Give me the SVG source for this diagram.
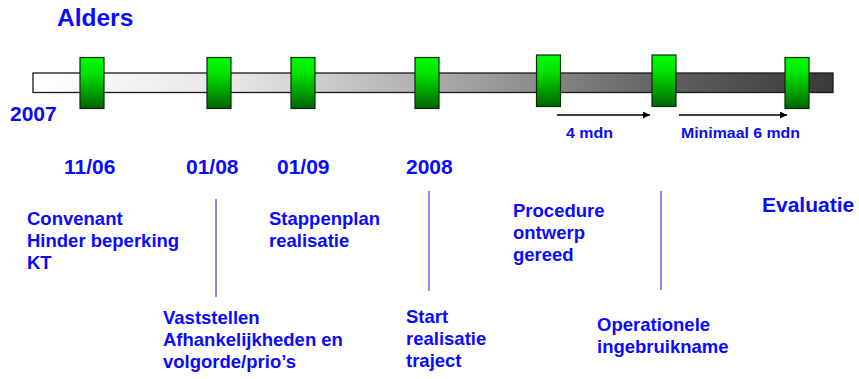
<svg xmlns="http://www.w3.org/2000/svg" width="859" height="379" viewBox="0 0 859 379">
<style>
text{font-family:"Liberation Sans",Arial,sans-serif;font-weight:bold;fill:#0a0aff}
.big{font-size:21px}
.mid{font-size:18.5px}
.sm{font-size:14px}
.box{fill:url(#gb);stroke:#0a2a0a;stroke-width:1.2}
.vl{stroke:#5a5ae6;stroke-width:1.4}
.ar{stroke:#000;stroke-width:1.5;fill:none;marker-end:url(#ah)}
</style>
<defs>
<linearGradient id="bar" x1="0" y1="0" x2="1" y2="0">
<stop offset="0" stop-color="#ffffff"/>
<stop offset="0.25" stop-color="#e6e6e6"/>
<stop offset="0.55" stop-color="#a0a0a0"/>
<stop offset="0.8" stop-color="#5e5e5e"/>
<stop offset="1" stop-color="#3a3a3a"/>
</linearGradient>
<linearGradient id="gb" x1="0" y1="0" x2="0" y2="1">
<stop offset="0" stop-color="#00ff00"/>
<stop offset="0.3" stop-color="#00e600"/>
<stop offset="1" stop-color="#006400"/>
</linearGradient>
<marker id="ah" viewBox="0 0 10 10" refX="10" refY="5" markerWidth="7" markerHeight="7" markerUnits="userSpaceOnUse" orient="auto">
<path d="M0,0 L10,5 L0,10 Z" fill="#000"/>
</marker>
</defs>
<text x="57" y="26" style="font-size:24.5px">Alders</text>
<g id="timeline">
<rect x="33" y="73" width="800" height="19.5" fill="url(#bar)" stroke="#1a1a1a" stroke-width="1.3"/>
</g>
<g id="m1"><rect class="box" x="80" y="57.5" width="24" height="51"/></g>
<g id="m2"><rect class="box" x="207" y="57.5" width="24" height="51"/></g>
<g id="m3"><rect class="box" x="291" y="57.5" width="24" height="51"/></g>
<g id="m4"><rect class="box" x="415" y="57.5" width="24" height="51"/></g>
<g id="m5"><rect class="box" x="536.5" y="55" width="24" height="51.5"/></g>
<g id="m6"><rect class="box" x="652" y="55" width="24" height="51.5"/></g>
<g id="m7"><rect class="box" x="785" y="57.5" width="24" height="51"/></g>
<g id="connectors">
<line class="ar" x1="557" y1="115" x2="650" y2="115"/>
<line class="ar" x1="679" y1="115" x2="787" y2="115"/>
<line class="vl" x1="216" y1="199" x2="216" y2="297"/>
<line class="vl" x1="429" y1="191" x2="429" y2="291"/>
<line class="vl" x1="661" y1="191" x2="661" y2="290"/>
</g>
<text class="sm" x="566" y="138" textLength="47" lengthAdjust="spacingAndGlyphs">4 mdn</text>
<text class="sm" x="681" y="138" textLength="119" lengthAdjust="spacingAndGlyphs">Minimaal 6 mdn</text>
<text class="big" x="10" y="121">2007</text>
<text class="big" x="64" y="174">11/06</text>
<text class="big" x="186" y="174">01/08</text>
<text class="big" x="277" y="174">01/09</text>
<text class="big" x="406" y="174">2008</text>
<text class="big" x="762" y="212">Evaluatie</text>
<g id="t1"><text class="mid" x="27" y="225">Convenant</text><text class="mid" x="27" y="247">Hinder beperking</text><text class="mid" x="27" y="269">KT</text></g>
<g id="t2"><text class="mid" x="163" y="324">Vaststellen</text><text class="mid" x="163" y="346">Afhankelijkheden en</text><text class="mid" x="163" y="368">volgorde/prio’s</text></g>
<g id="t3"><text class="mid" x="269" y="225">Stappenplan</text><text class="mid" x="269" y="247">realisatie</text></g>
<g id="t4"><text class="mid" x="406" y="323">Start</text><text class="mid" x="406" y="345">realisatie</text><text class="mid" x="406" y="367">traject</text></g>
<g id="t5"><text class="mid" x="513" y="217">Procedure</text><text class="mid" x="513" y="239">ontwerp</text><text class="mid" x="513" y="261">gereed</text></g>
<g id="t6"><text class="mid" x="597" y="331">Operationele</text><text class="mid" x="597" y="353">ingebruikname</text></g>
</svg>
